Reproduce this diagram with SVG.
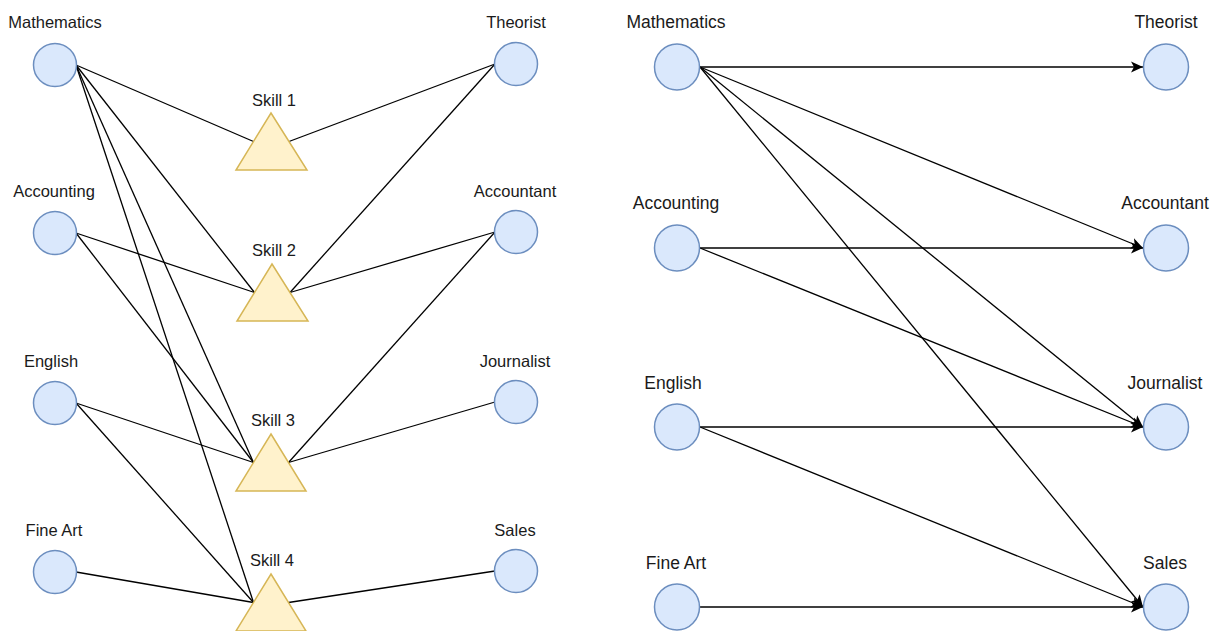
<svg xmlns="http://www.w3.org/2000/svg" width="1218" height="631" viewBox="0 0 1218 631">
<style>
.c{fill:#dae8fc;stroke:#6c8ebf;stroke-width:1.5}
.t{fill:#fff2cc;stroke:#d6b656;stroke-width:1.5}
.l{font-family:"Liberation Sans",Arial,sans-serif;font-size:16.5px;fill:#1a1a1a;text-anchor:middle}
.r{font-family:"Liberation Sans",Arial,sans-serif;font-size:17.5px;fill:#1a1a1a;text-anchor:middle}
.e{stroke:#000;stroke-width:1.3;fill:none}
.a{stroke:#000;stroke-width:1.3;fill:none;marker-end:url(#arr)}
</style>
<defs>
<marker id="arr" markerUnits="userSpaceOnUse" markerWidth="14" markerHeight="12" refX="12" refY="6" orient="auto">
<path d="M0,0.5 L12,6 L0,11.5 L3,6 Z" fill="#000"/>
</marker>
</defs>
<rect width="1218" height="631" fill="#fff"/>
<g id="connectors">
<line class="e" x1="76" y1="65" x2="253.5" y2="141.5"/>
<line class="e" x1="76" y1="65" x2="254.5" y2="292.5"/>
<line class="e" x1="76" y1="65" x2="253.5" y2="462.5"/>
<line class="e" x1="76" y1="65" x2="253.5" y2="602.5"/>
<line class="e" x1="76" y1="233" x2="254.5" y2="292.5"/>
<line class="e" x1="76" y1="233" x2="253.5" y2="462.5"/>
<line class="e" x1="76" y1="403" x2="253.5" y2="462.5"/>
<line class="e" x1="76" y1="403" x2="253.5" y2="602.5"/>
<line class="e" x1="76" y1="572" x2="253.5" y2="602.5"/>
<line class="e" x1="289" y1="141.5" x2="495" y2="64"/>
<line class="e" x1="290" y1="292.5" x2="495" y2="64"/>
<line class="e" x1="290" y1="292.5" x2="495" y2="232"/>
<line class="e" x1="288.5" y1="462.5" x2="495" y2="232"/>
<line class="e" x1="288.5" y1="462.5" x2="495" y2="402"/>
<line class="e" x1="288.5" y1="602.5" x2="495" y2="571"/>
<line class="a" x1="700" y1="67" x2="1143" y2="67"/>
<line class="a" x1="700" y1="67" x2="1143" y2="248"/>
<line class="a" x1="700" y1="67" x2="1143" y2="427"/>
<line class="a" x1="700" y1="67" x2="1143" y2="607"/>
<line class="a" x1="700" y1="248" x2="1143" y2="248"/>
<line class="a" x1="700" y1="248" x2="1143" y2="427"/>
<line class="a" x1="700" y1="427" x2="1143" y2="427"/>
<line class="a" x1="700" y1="427" x2="1143" y2="607"/>
<line class="a" x1="700" y1="607" x2="1143" y2="607"/>
</g>
<g id="L-math"><circle class="c" cx="55" cy="65" r="21.5"/><text class="l" x="55" y="28">Mathematics</text></g>
<g id="L-acc"><circle class="c" cx="55" cy="233" r="21.5"/><text class="l" x="54" y="197">Accounting</text></g>
<g id="L-eng"><circle class="c" cx="55" cy="403" r="21.5"/><text class="l" x="51" y="367">English</text></g>
<g id="L-fine"><circle class="c" cx="55" cy="572" r="21.5"/><text class="l" x="54" y="536">Fine Art</text></g>
<g id="L-theo"><circle class="c" cx="516" cy="64" r="21.5"/><text class="l" x="516" y="28">Theorist</text></g>
<g id="L-acct"><circle class="c" cx="516" cy="232" r="21.5"/><text class="l" x="515" y="197">Accountant</text></g>
<g id="L-jour"><circle class="c" cx="516" cy="402" r="21.5"/><text class="l" x="515" y="367">Journalist</text></g>
<g id="L-sales"><circle class="c" cx="516" cy="571" r="21.5"/><text class="l" x="515" y="536">Sales</text></g>
<g id="skill1"><polygon class="t" points="271,113 307,170 236,170"/><text class="l" x="274" y="106">Skill 1</text></g>
<g id="skill2"><polygon class="t" points="272,264 308,321 237,321"/><text class="l" x="274" y="256">Skill 2</text></g>
<g id="skill3"><polygon class="t" points="271,434 306,491 236,491"/><text class="l" x="273" y="426">Skill 3</text></g>
<g id="skill4"><polygon class="t" points="271,574 306,631 236,631"/><text class="l" x="272" y="566">Skill 4</text></g>
<g id="R-math"><ellipse class="c" cx="677" cy="67" rx="22.5" ry="23"/><text class="r" x="676" y="28">Mathematics</text></g>
<g id="R-acc"><ellipse class="c" cx="677" cy="248" rx="22.5" ry="23"/><text class="r" x="676" y="209">Accounting</text></g>
<g id="R-eng"><ellipse class="c" cx="677" cy="427" rx="22.5" ry="23"/><text class="r" x="673" y="389">English</text></g>
<g id="R-fine"><ellipse class="c" cx="677" cy="607" rx="22.5" ry="23"/><text class="r" x="676" y="569">Fine Art</text></g>
<g id="R-theo"><ellipse class="c" cx="1166" cy="67" rx="22.5" ry="23"/><text class="r" x="1166" y="28">Theorist</text></g>
<g id="R-acct"><ellipse class="c" cx="1166" cy="248" rx="22.5" ry="23"/><text class="r" x="1165" y="209">Accountant</text></g>
<g id="R-jour"><ellipse class="c" cx="1166" cy="427" rx="22.5" ry="23"/><text class="r" x="1165" y="389">Journalist</text></g>
<g id="R-sales"><ellipse class="c" cx="1166" cy="607" rx="22.5" ry="23"/><text class="r" x="1165" y="569">Sales</text></g>
</svg>
